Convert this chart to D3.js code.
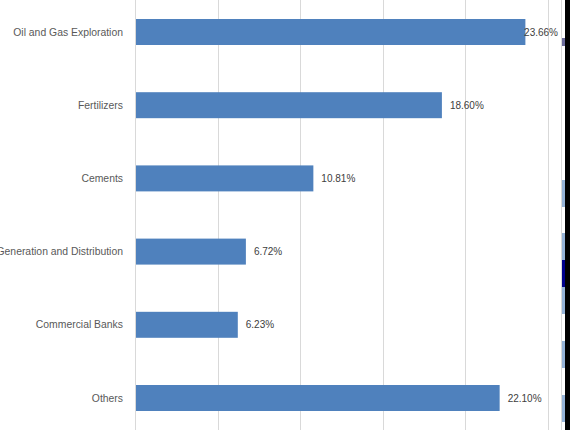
<!DOCTYPE html>
<html>
<head>
<meta charset="utf-8">
<script src="https://cdn.jsdelivr.net/npm/d3@7"></script>
<style>
  body { margin: 0; background: #fff; }
  svg { display: block; font-family: "Liberation Sans", Arial, sans-serif; }
</style>
</head>
<body>
<div id="chart"></div>
<script>
// sector weights (%)
var sectors = ["Oil and Gas Exploration", "Fertilizers", "Cements",
               "Power Generation and Distribution", "Commercial Banks", "Others"];
var weights = [23.66, 18.60, 10.81, 6.72, 6.23, 22.10];
var ticks = [0, 5, 10, 15, 20, 25];

var W = 570, H = 430;
var barColor = "#4f81bd";
var gridColor = "#d9d9d9";

var svg = d3.select("#chart").append("svg")
    .attr("width", W).attr("height", H);

var x = d3.scaleLinear().domain([0, 25]).range([135, 547.5]);
var y = d3.scaleBand().domain(sectors).range([-4.6, 434.6])
    .paddingInner(0.645).paddingOuter(0.3225);

// gridlines
svg.append("g").selectAll("line")
    .data(ticks)
    .join("line")
    .attr("x1", d => Math.round(x(d)) + 0.5)
    .attr("x2", d => Math.round(x(d)) + 0.5)
    .attr("y1", 0).attr("y2", H)
    .attr("stroke", gridColor).attr("stroke-width", 1);

// plot border on right
svg.append("line")
    .attr("x1", 561.5).attr("x2", 561.5).attr("y1", 0).attr("y2", H)
    .attr("stroke", gridColor);

// bars
svg.append("g").selectAll("rect")
    .data(weights)
    .join("rect")
    .attr("x", x(0) + 1)
    .attr("y", (d, i) => y(sectors[i]))
    .attr("width", d => x(d) - x(0) - 1)
    .attr("height", y.bandwidth())
    .attr("fill", barColor);

// category labels (the long one runs off the left edge, as in the source)
svg.append("g").selectAll("text")
    .data(sectors)
    .join("text")
    .attr("x", 123)
    .attr("y", d => y(d) + y.bandwidth() / 2)
    .attr("dy", "0.35em")
    .attr("text-anchor", "end")
    .attr("font-size", 10.4)
    .attr("fill", "#595959")
    .text(d => d);

// value labels, pushed back inside when they'd run off the plot
var vals = svg.append("g").selectAll("text")
    .data(weights)
    .join("text")
    .attr("y", (d, i) => y(sectors[i]) + y.bandwidth() / 2)
    .attr("dy", "0.35em")
    .attr("font-size", 10)
    .attr("fill", "#404040")
    .text(d => d.toFixed(2) + "%");
vals.each(function(d) {
    var w = this.getComputedTextLength();
    var px = x(d) + 8;
    if (px + w > 558) px = 558 - w;
    d3.select(this).attr("x", px);
});

// cropped bits of the neighbouring chart at the right edge
svg.append("rect").attr("x", 565).attr("y", 0).attr("width", 5).attr("height", H).attr("fill", "#000");
var edgeBits = [[38, 46, "#6b6b9b"], [180, 207, "#95b3d7"], [233, 260, "#95b3d7"],
                [260, 287, "#00008b"], [287, 314, "#95b3d7"], [341, 368, "#95b3d7"],
                [395, 422, "#95b3d7"]];
svg.append("g").selectAll("rect")
    .data(edgeBits)
    .join("rect")
    .attr("x", 562).attr("width", 3)
    .attr("y", d => d[0]).attr("height", d => d[1] - d[0])
    .attr("fill", d => d[2]);
</script>
</body>
</html>
